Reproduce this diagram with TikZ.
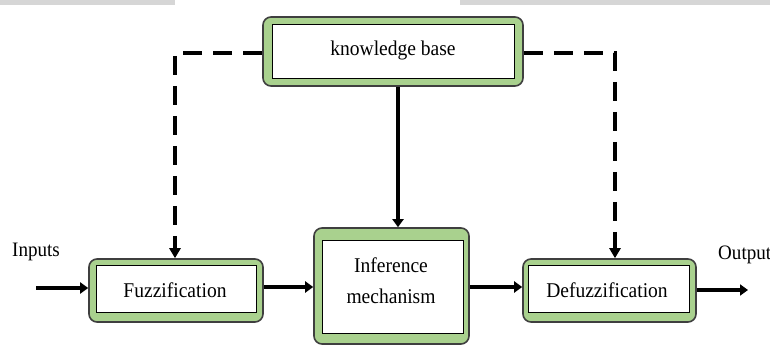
\documentclass[tikz,border=0pt]{standalone}
\usepackage{fontspec}
\setmainfont{Liberation Serif}[FakeStretch=0.93]
\usetikzlibrary{arrows.meta,positioning}
\definecolor{boxgreen}{HTML}{A9D18E}
\definecolor{boxedge}{HTML}{3F3F3F}
\definecolor{band}{HTML}{D6D6D6}
\begin{document}
\begin{tikzpicture}[x=1pt,y=-1pt,
  outerbox/.style={draw=boxedge,line width=1.6pt,fill=boxgreen,rounded corners=8pt,inner sep=0pt},
  innerbox/.style={draw=black,line width=0.9pt,fill=white,inner sep=0pt},
  txt/.style={inner sep=0pt,align=center,font=\fontsize{21}{31}\selectfont},
  lbl/.style={font=\fontsize{20.5}{24}\selectfont,inner sep=0pt},
  flow/.style={line width=4.5pt,-{Triangle[length=8pt,width=11pt]}},
  dasharrow/.style={line width=3.8pt,dash pattern=on 19pt off 11pt,-{Triangle[length=10pt,width=11pt]}}]
\useasboundingbox (0,0) rectangle (770,347);
\fill[band] (0,0) rectangle (175,5);
\fill[band] (460,0) rectangle (770,5);
% blocks
\node[outerbox,minimum width=260pt,minimum height=69pt] (kbo) at (393,51.5) {};
\node[innerbox,minimum width=242pt,minimum height=54pt] (kbi) at (393.5,51) {};
\node[txt] (kb) at (393,50) {knowledge base};
\node[outerbox,minimum width=174pt,minimum height=63pt] (fuzo) at (176,290.5) {};
\node[innerbox,minimum width=160pt,minimum height=47pt] (fuzi) at (176,288.5) {};
\node[txt] (fuz) at (175,290) {Fuzzification};
\node[outerbox,minimum width=155pt,minimum height=116pt] (info) at (391.5,286) {};
\node[innerbox,minimum width=141pt,minimum height=93pt] (infi) at (392.5,286.5) {};
\node[txt] (inf) at (391,281) {Inference\\mechanism};
\node[outerbox,minimum width=173pt,minimum height=63pt] (defo) at (609.5,290.5) {};
\node[innerbox,minimum width=161pt,minimum height=47pt] (defi) at (608.5,288.5) {};
\node[txt] (def) at (607,290) {Defuzzification};
% labels
\node[lbl] (inlbl) at (36,252) {Inputs};
\node[lbl,anchor=west] (outlbl) at (718,255) {Output};
% coordinates
\coordinate (inpt) at (36,288);
\coordinate (outpt) at (748,290);
\coordinate (kbx) at (398,0);
\coordinate (dl) at (175,53);
\coordinate (dr) at (615,53);
\coordinate (ml) at (0,287);
% connectors
\draw[flow] (inpt) -- (inpt -| fuzo.west);
\draw[flow] (fuzo.east |- ml) -- (ml -| info.west);
\draw[flow] (info.east |- ml) -- (ml -| defo.west);
\draw[flow] (defo.east |- outpt) -- (outpt);
\draw[flow] (kbo.south -| kbx) -- (info.north -| kbx);
\draw[dasharrow] (kbo.west |- dl) -- (dl) -- (dl |- fuzo.north);
\draw[dasharrow] (kbo.east |- dr) -- (dr) -- (dr |- defo.north);
\end{tikzpicture}
\end{document}
